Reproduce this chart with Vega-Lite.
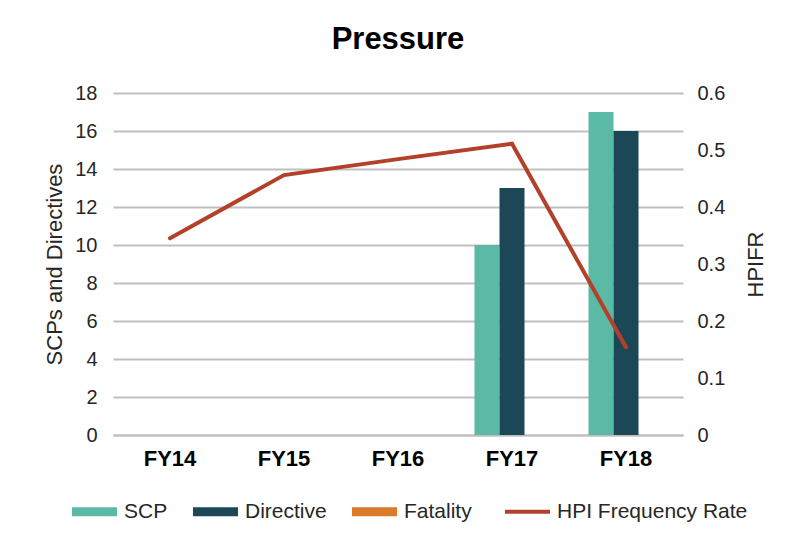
{
  "$schema": "https://vega.github.io/schema/vega-lite/v6.json",
  "autosize": {"type": "none"},
  "width": 570,
  "height": 342,
  "padding": {"left": 113, "top": 93, "right": 102, "bottom": 104},
  "background": "white",
  "title": {
    "text": "Pressure",
    "font": "Liberation Sans",
    "fontSize": 31,
    "fontWeight": "bold",
    "color": "#000000",
    "anchor": "middle",
    "offset": 27
  },
  "config": {
    "font": "Liberation Sans",
    "view": {"stroke": null},
    "axis": {
      "labelFont": "Liberation Sans",
      "titleFont": "Liberation Sans",
      "labelColor": "#262626",
      "titleColor": "#262626",
      "titleFontWeight": "normal"
    }
  },
  "datasets": {
    "bars": [
      {"fy": "FY14", "series": "SCP", "value": 0},
      {"fy": "FY14", "series": "Directive", "value": 0},
      {"fy": "FY14", "series": "Fatality", "value": 0},
      {"fy": "FY15", "series": "SCP", "value": 0},
      {"fy": "FY15", "series": "Directive", "value": 0},
      {"fy": "FY15", "series": "Fatality", "value": 0},
      {"fy": "FY16", "series": "SCP", "value": 0},
      {"fy": "FY16", "series": "Directive", "value": 0},
      {"fy": "FY16", "series": "Fatality", "value": 0},
      {"fy": "FY17", "series": "SCP", "value": 10},
      {"fy": "FY17", "series": "Directive", "value": 13},
      {"fy": "FY17", "series": "Fatality", "value": 0},
      {"fy": "FY18", "series": "SCP", "value": 17},
      {"fy": "FY18", "series": "Directive", "value": 16},
      {"fy": "FY18", "series": "Fatality", "value": 0}
    ],
    "rate": [
      {"fy": "FY14", "series": "HPI Frequency Rate", "rate": 0.345},
      {"fy": "FY15", "series": "HPI Frequency Rate", "rate": 0.456},
      {"fy": "FY16", "series": "HPI Frequency Rate", "rate": 0.484},
      {"fy": "FY17", "series": "HPI Frequency Rate", "rate": 0.511},
      {"fy": "FY18", "series": "HPI Frequency Rate", "rate": 0.154}
    ]
  },
  "encoding": {
    "x": {
      "field": "fy",
      "type": "nominal",
      "sort": ["FY14", "FY15", "FY16", "FY17", "FY18"],
      "scale": {"paddingInner": 0.342, "paddingOuter": 0.171},
      "axis": {
        "title": null,
        "labelAngle": 0,
        "labelFontSize": 22,
        "labelFontWeight": "bold",
        "labelColor": "#000000",
        "labelPadding": 13,
        "ticks": false,
        "domainColor": "#bfbfbf",
        "domainWidth": 2
      }
    }
  },
  "layer": [
    {
      "data": {"name": "bars"},
      "mark": {"type": "bar"},
      "encoding": {
        "xOffset": {"field": "series", "type": "nominal", "sort": ["SCP", "Directive", "Fatality"], "scale": {"paddingInner": 0, "paddingOuter": 0}},
        "y": {
          "field": "value",
          "type": "quantitative",
          "scale": {"domain": [0, 18]},
          "axis": {
            "title": "SCPs and Directives",
            "titleFontSize": 22,
            "titlePadding": 8,
            "labelFontSize": 20,
            "labelPadding": 16,
            "values": [0, 2, 4, 6, 8, 10, 12, 14, 16, 18],
            "ticks": false,
            "domain": false,
            "grid": true,
            "gridColor": "#bfbfbf",
            "gridWidth": 2
          }
        },
        "color": {
          "field": "series",
          "type": "nominal",
          "scale": {
            "domain": ["SCP", "Directive", "Fatality", "HPI Frequency Rate"],
            "range": ["#5bbaa5", "#1b4756", "#d97b2a", "#b3412a"]
          },
          "legend": {
            "title": null,
            "orient": "none",
            "legendX": -29,
            "legendY": 408,
            "direction": "horizontal",
            "columns": 4,
            "labelFontSize": 21,
            "labelColor": "#262626",
            "labelOffset": 19,
            "labelLimit": 300,
            "columnPadding": 25,
            "symbolType": "M-1,-0.2H1V0.2H-1Z",
            "symbolSize": 2025,
            "encode": {
              "symbols": {
                "update": {
                  "shape": {"signal": "datum.label === 'HPI Frequency Rate' ? 'stroke' : 'M-1,-0.2H1V0.2H-1Z'"},
                  "fill": {"signal": "datum.label === 'HPI Frequency Rate' ? 'transparent' : scale('color', datum.value)"},
                  "stroke": {"signal": "scale('color', datum.value)"},
                  "strokeWidth": {"signal": "datum.label === 'HPI Frequency Rate' ? 4 : 0"},
                  "opacity": {"value": 1}
                }
              }
            }
          }
        }
      }
    },
    {
      "data": {"name": "rate"},
      "mark": {"type": "line", "strokeWidth": 4, "strokeCap": "round", "strokeJoin": "miter"},
      "encoding": {
        "y": {
          "field": "rate",
          "type": "quantitative",
          "scale": {"domain": [0, 0.6]},
          "axis": {
            "title": "HPIFR",
            "orient": "right",
            "titleAngle": 270,
            "titleFontSize": 22,
            "titleX": 72,
            "titleY": 171,
            "titleAlign": "center",
            "titleBaseline": "middle",
            "labelFontSize": 20,
            "labelPadding": 14,
            "format": ".1~f",
            "values": [0, 0.1, 0.2, 0.3, 0.4, 0.5, 0.6],
            "ticks": false,
            "domain": false,
            "grid": false
          }
        },
        "color": {"field": "series", "type": "nominal"}
      }
    }
  ],
  "resolve": {"scale": {"y": "independent"}}
}
